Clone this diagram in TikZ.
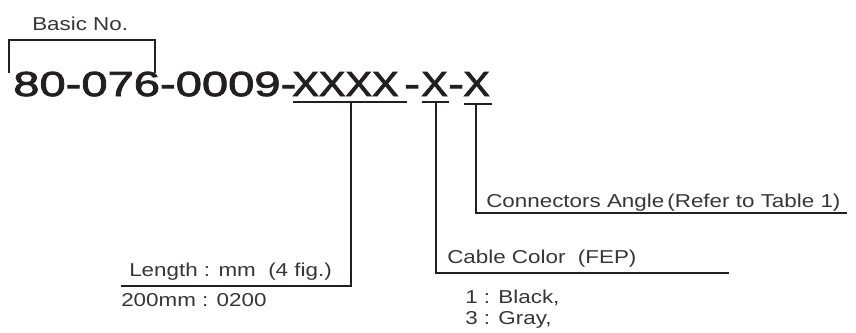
\documentclass[tikz,border=0pt]{standalone}
\usepackage{fontspec}
\setmainfont{Liberation Sans}[FakeStretch=1.2]
\newfontfamily\digitfont{Liberation Sans}[FakeStretch=1.36, FakeBold=2.5]
\newfontfamily\letterfont{Liberation Sans}[FakeStretch=1.15, FakeBold=2.5]
\usetikzlibrary{positioning}
\definecolor{ink}{RGB}{35,31,32}
\tikzset{code/.style = {font=\digitfont\fontsize{26}{30}\selectfont, text=ink,
                        inner sep=0pt, anchor=base west},
         field/.style = {code, font=\letterfont\fontsize{26}{30}\selectfont},
         note/.style = {font=\fontsize{14}{16}\selectfont, text=ink!90,
                        inner sep=0pt, anchor=base west},
         lead/.style = {draw=ink, line width=1.1pt},
         bar/.style = {draw=ink, line width=1.7pt}}

\begin{document}
\begin{tikzpicture}[x=0.75pt, y=-0.75pt]
  \useasboundingbox (0,0) rectangle (856,332);

  % part number, split where the fields are marked
  \node [code] (basic) at (13,96) {80-076-0009-};
  \node [field] (len) at (292,96) {XXXX};
  \node [code] (dasha) at (404,96) {-};
  \node [field] (colr) at (421,96) {X};
  \node [code] (dashb) at (448,96) {-};
  \node [field] (angl) at (463,96) {X};

  % basic number bracket
  \node [note] (basiclbl) at (32,30) {Basic No.};
  \coordinate (brL) at (9,73);
  \coordinate (brR) at (155,73);
  \draw [lead] (brL) |- (155,40) -- (brR);

  % length
  \coordinate (lenA) at (293,102);
  \coordinate (lenB) at (407,102);
  \coordinate (lenU) at (351,102);
  \coordinate (lenE) at (121,286);
  \draw [bar] (lenA) -- (lenB);
  \draw [lead] (lenU) |- (lenE);
  \node [note] (lenlbl) at (129,276) {Length : mm~~(4 fig.)};
  \node [note] (lenex) at (121,306) {200mm : 0200};

  % cable colour
  \coordinate (colA) at (422,102);
  \coordinate (colB) at (449,102);
  \coordinate (colU) at (436,102);
  \coordinate (colE) at (729,273);
  \draw [bar] (colA) -- (colB);
  \draw [lead] (colU) |- (colE);
  \node [note] (collbl) at (447,263) {Cable Color~~(FEP)};
  \node [note] (colblk) at (465,303) {1 : Black,};
  \node [note] (colgry) at (465,324) {3 : Gray,};

  % connector angle
  \coordinate (angA) at (464,104);
  \coordinate (angB) at (492,104);
  \coordinate (angU) at (476,104);
  \coordinate (angE) at (847,213);
  \draw [bar] (angA) -- (angB);
  \draw [lead] (angU) |- (angE);
  \node [note] (anglbl) at (486,207) {Connectors Angle\,(Refer to Table 1)};
\end{tikzpicture}
\end{document}
